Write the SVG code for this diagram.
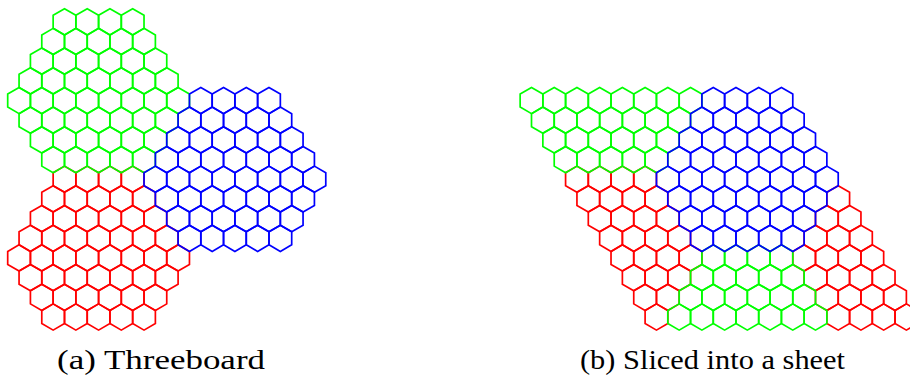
<svg xmlns="http://www.w3.org/2000/svg" xmlns:xlink="http://www.w3.org/1999/xlink" width="910" height="382" viewBox="0 0 910 382">
<style>
.hx{fill:none;stroke-width:1.7}
.r{stroke:#ff0000}
.g{stroke:#00ff00}
.b{stroke:#0000ff}
.cap{font-family:"Liberation Serif","Times New Roman",serif;font-size:28px;fill:#000}
</style>
<defs>
<path id="h" d="M0,-13.12L11.36,-6.56L11.36,6.56L0,13.12L-11.36,6.56L-11.36,-6.56Z"/>
<g id="tile">
<use href="#h" x="0" y="0"/><use href="#h" x="22.72" y="0"/><use href="#h" x="45.44" y="0"/><use href="#h" x="68.16" y="0"/>
<use href="#h" x="-11.36" y="19.68"/><use href="#h" x="11.36" y="19.68"/><use href="#h" x="34.08" y="19.68"/><use href="#h" x="56.8" y="19.68"/><use href="#h" x="79.52" y="19.68"/>
<use href="#h" x="-22.72" y="39.36"/><use href="#h" x="0" y="39.36"/><use href="#h" x="22.72" y="39.36"/><use href="#h" x="45.44" y="39.36"/><use href="#h" x="68.16" y="39.36"/><use href="#h" x="90.88" y="39.36"/>
<use href="#h" x="-34.08" y="59.04"/><use href="#h" x="-11.36" y="59.04"/><use href="#h" x="11.36" y="59.04"/><use href="#h" x="34.08" y="59.04"/><use href="#h" x="56.8" y="59.04"/><use href="#h" x="79.52" y="59.04"/><use href="#h" x="102.24" y="59.04"/>
<use href="#h" x="-45.44" y="78.72"/><use href="#h" x="-22.72" y="78.72"/><use href="#h" x="0" y="78.72"/><use href="#h" x="22.72" y="78.72"/><use href="#h" x="45.44" y="78.72"/><use href="#h" x="68.16" y="78.72"/><use href="#h" x="90.88" y="78.72"/><use href="#h" x="113.6" y="78.72"/>
<use href="#h" x="-34.08" y="98.4"/><use href="#h" x="-11.36" y="98.4"/><use href="#h" x="11.36" y="98.4"/><use href="#h" x="34.08" y="98.4"/><use href="#h" x="56.8" y="98.4"/><use href="#h" x="79.52" y="98.4"/><use href="#h" x="102.24" y="98.4"/>
<use href="#h" x="-22.72" y="118.08"/><use href="#h" x="0" y="118.08"/><use href="#h" x="22.72" y="118.08"/><use href="#h" x="45.44" y="118.08"/><use href="#h" x="68.16" y="118.08"/><use href="#h" x="90.88" y="118.08"/>
<use href="#h" x="-11.36" y="137.76"/><use href="#h" x="11.36" y="137.76"/><use href="#h" x="34.08" y="137.76"/><use href="#h" x="56.8" y="137.76"/><use href="#h" x="79.52" y="137.76"/>
</g>
</defs>
<rect width="910" height="382" fill="#fff"/>

<g id="threeboard" class="hx">
<use id="board-red" class="r" href="#tile" x="64.5" y="179.24"/>
<use id="board-green" class="g" href="#tile" x="64.5" y="21.8"/>
<use id="board-blue" class="b" href="#tile" x="200.82" y="100.52"/>
</g>

<g id="sheet" class="hx">
<g id="sheet-red" class="r">
<g transform="translate(576.94,179.24)"><use href="#h" x="0"/><use href="#h" x="22.72"/><use href="#h" x="45.44"/><use href="#h" x="68.16"/></g>
<g transform="translate(588.3,198.92)"><use href="#h" x="0"/><use href="#h" x="22.72"/><use href="#h" x="45.44"/><use href="#h" x="68.16"/><use href="#h" x="249.92"/></g>
<g transform="translate(599.66,218.6)"><use href="#h" x="0"/><use href="#h" x="22.72"/><use href="#h" x="45.44"/><use href="#h" x="68.16"/><use href="#h" x="227.2"/><use href="#h" x="249.92"/></g>
<g transform="translate(611.02,238.28)"><use href="#h" x="0"/><use href="#h" x="22.72"/><use href="#h" x="45.44"/><use href="#h" x="68.16"/><use href="#h" x="204.48"/><use href="#h" x="227.2"/><use href="#h" x="249.92"/></g>
<g transform="translate(622.38,257.96)"><use href="#h" x="0"/><use href="#h" x="22.72"/><use href="#h" x="45.44"/><use href="#h" x="68.16"/><use href="#h" x="181.76"/><use href="#h" x="204.48"/><use href="#h" x="227.2"/><use href="#h" x="249.92"/></g>
<g transform="translate(633.74,277.64)"><use href="#h" x="0"/><use href="#h" x="22.72"/><use href="#h" x="45.44"/><use href="#h" x="181.76"/><use href="#h" x="204.48"/><use href="#h" x="227.2"/><use href="#h" x="249.92"/></g>
<g transform="translate(645.1,297.32)"><use href="#h" x="0"/><use href="#h" x="22.72"/><use href="#h" x="181.76"/><use href="#h" x="204.48"/><use href="#h" x="227.2"/><use href="#h" x="249.92"/></g>
<g transform="translate(656.46,317)"><use href="#h" x="0"/><use href="#h" x="181.76"/><use href="#h" x="204.48"/><use href="#h" x="227.2"/><use href="#h" x="249.92"/></g>
</g>
<g id="sheet-green" class="g">
<g transform="translate(531.5,100.52)"><use href="#h" x="0"/><use href="#h" x="22.72"/><use href="#h" x="45.44"/><use href="#h" x="68.16"/><use href="#h" x="90.88"/><use href="#h" x="113.6"/><use href="#h" x="136.32"/><use href="#h" x="159.04"/></g>
<g transform="translate(542.86,120.2)"><use href="#h" x="0"/><use href="#h" x="22.72"/><use href="#h" x="45.44"/><use href="#h" x="68.16"/><use href="#h" x="90.88"/><use href="#h" x="113.6"/><use href="#h" x="136.32"/></g>
<g transform="translate(554.22,139.88)"><use href="#h" x="0"/><use href="#h" x="22.72"/><use href="#h" x="45.44"/><use href="#h" x="68.16"/><use href="#h" x="90.88"/><use href="#h" x="113.6"/></g>
<g transform="translate(565.58,159.56)"><use href="#h" x="0"/><use href="#h" x="22.72"/><use href="#h" x="45.44"/><use href="#h" x="68.16"/><use href="#h" x="90.88"/></g>
<g transform="translate(622.38,257.96)"><use href="#h" x="90.88"/><use href="#h" x="113.6"/><use href="#h" x="136.32"/><use href="#h" x="159.04"/></g>
<g transform="translate(633.74,277.64)"><use href="#h" x="68.16"/><use href="#h" x="90.88"/><use href="#h" x="113.6"/><use href="#h" x="136.32"/><use href="#h" x="159.04"/></g>
<g transform="translate(645.1,297.32)"><use href="#h" x="45.44"/><use href="#h" x="68.16"/><use href="#h" x="90.88"/><use href="#h" x="113.6"/><use href="#h" x="136.32"/><use href="#h" x="159.04"/></g>
<g transform="translate(656.46,317)"><use href="#h" x="22.72"/><use href="#h" x="45.44"/><use href="#h" x="68.16"/><use href="#h" x="90.88"/><use href="#h" x="113.6"/><use href="#h" x="136.32"/><use href="#h" x="159.04"/></g>
</g>
<g id="sheet-blue" class="b">
<g transform="translate(531.5,100.52)"><use href="#h" x="181.76"/><use href="#h" x="204.48"/><use href="#h" x="227.2"/><use href="#h" x="249.92"/></g>
<g transform="translate(542.86,120.2)"><use href="#h" x="159.04"/><use href="#h" x="181.76"/><use href="#h" x="204.48"/><use href="#h" x="227.2"/><use href="#h" x="249.92"/></g>
<g transform="translate(554.22,139.88)"><use href="#h" x="136.32"/><use href="#h" x="159.04"/><use href="#h" x="181.76"/><use href="#h" x="204.48"/><use href="#h" x="227.2"/><use href="#h" x="249.92"/></g>
<g transform="translate(565.58,159.56)"><use href="#h" x="113.6"/><use href="#h" x="136.32"/><use href="#h" x="159.04"/><use href="#h" x="181.76"/><use href="#h" x="204.48"/><use href="#h" x="227.2"/><use href="#h" x="249.92"/></g>
<g transform="translate(576.94,179.24)"><use href="#h" x="90.88"/><use href="#h" x="113.6"/><use href="#h" x="136.32"/><use href="#h" x="159.04"/><use href="#h" x="181.76"/><use href="#h" x="204.48"/><use href="#h" x="227.2"/><use href="#h" x="249.92"/></g>
<g transform="translate(588.3,198.92)"><use href="#h" x="90.88"/><use href="#h" x="113.6"/><use href="#h" x="136.32"/><use href="#h" x="159.04"/><use href="#h" x="181.76"/><use href="#h" x="204.48"/><use href="#h" x="227.2"/></g>
<g transform="translate(599.66,218.6)"><use href="#h" x="90.88"/><use href="#h" x="113.6"/><use href="#h" x="136.32"/><use href="#h" x="159.04"/><use href="#h" x="181.76"/><use href="#h" x="204.48"/></g>
<g transform="translate(611.02,238.28)"><use href="#h" x="90.88"/><use href="#h" x="113.6"/><use href="#h" x="136.32"/><use href="#h" x="159.04"/><use href="#h" x="181.76"/></g>
</g>
</g>

<g id="captions">
<text id="cap-a" class="cap" x="57" y="369" textLength="208" lengthAdjust="spacingAndGlyphs">(a) Threeboard</text>
<text id="cap-b" class="cap" x="580" y="369" textLength="265" lengthAdjust="spacingAndGlyphs">(b) Sliced into a sheet</text>
</g>
</svg>
